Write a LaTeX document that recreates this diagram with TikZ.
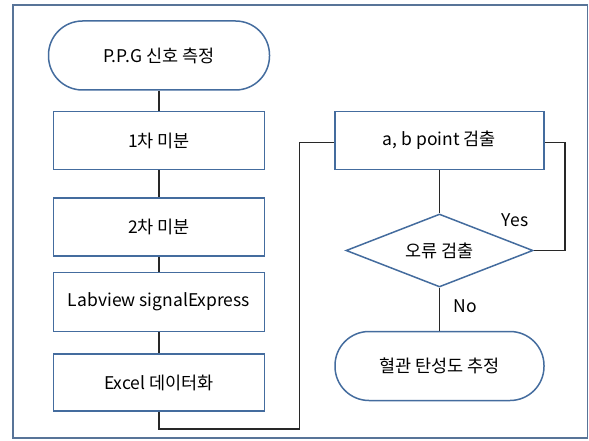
\documentclass[tikz,border=0pt]{standalone}
\usepackage{fontspec}
\setmainfont{Noto Sans CJK KR}
\usepackage{tikz}
\usetikzlibrary{positioning,shapes.geometric}
\definecolor{BoxBlue}{RGB}{68,108,158}
\definecolor{FrameBlue}{RGB}{88,116,152}
\definecolor{LineGray}{RGB}{40,40,40}

\begin{document}
\begin{tikzpicture}[
  x=1pt, y=-1pt,
  node distance=20pt and 69pt,
  font=\fontsize{17.5}{20}\selectfont,
  procbox/.style={draw=BoxBlue, line width=1.5pt, fill=white, align=center, minimum width=211pt, minimum height=58pt},
  termbox/.style={draw=BoxBlue, line width=1.5pt, fill=white, rounded corners=34pt, align=center, minimum width=221pt, minimum height=69pt},
  decision/.style={draw=BoxBlue, line width=1.5pt, fill=white, diamond, aspect=2.56, inner sep=0pt, minimum width=187pt, minimum height=73pt},
  link/.style={draw=LineGray, line width=1.5pt}
]
\useasboundingbox (0,0) rectangle (589,441);
\draw[FrameBlue, line width=1.4pt] (13,5) rectangle (587.5,438);

\node[termbox] (start) at (159,55.5) {P.P.G 신호 측정};
\node[procbox, below=20pt of start] (diff1) {1차 미분};
\node[procbox, below=27pt of diff1] (diff2) {2차 미분};
\node[procbox, below=15pt of diff2, minimum height=59pt] (labview) {Labview signalExpress};
\node[procbox, below=21pt of labview, minimum height=57pt] (excel) {Excel 데이터화};

\node[procbox, right=69pt of diff1, minimum width=209pt] (detect) {a, b point 검출};
\node[decision, below=43pt of detect] (check) {오류 검출};
\node[termbox, below=43pt of check, minimum width=209pt] (finish) {혈관 탄성도 추정};

\draw[link] (start) -- (diff1);
\draw[link] (diff1) -- (diff2);
\draw[link] (diff2) -- (labview);
\draw[link] (labview) -- (excel);
\draw[link] (excel.south) -- ++(0,17) -| ([xshift=-35pt,yshift=-2pt]detect.west) -- ([yshift=-2pt]detect.west);
\draw[link] (detect) -- (check);
\draw[link] (check) -- node[right=10pt, yshift=3pt] {No} (finish);
\draw[link] (check.east) -- ++(31,0) |- ([yshift=-2pt]detect.east);

\node[above left=20pt and 2pt of check.east] (yes) {Yes};
\end{tikzpicture}
\end{document}
